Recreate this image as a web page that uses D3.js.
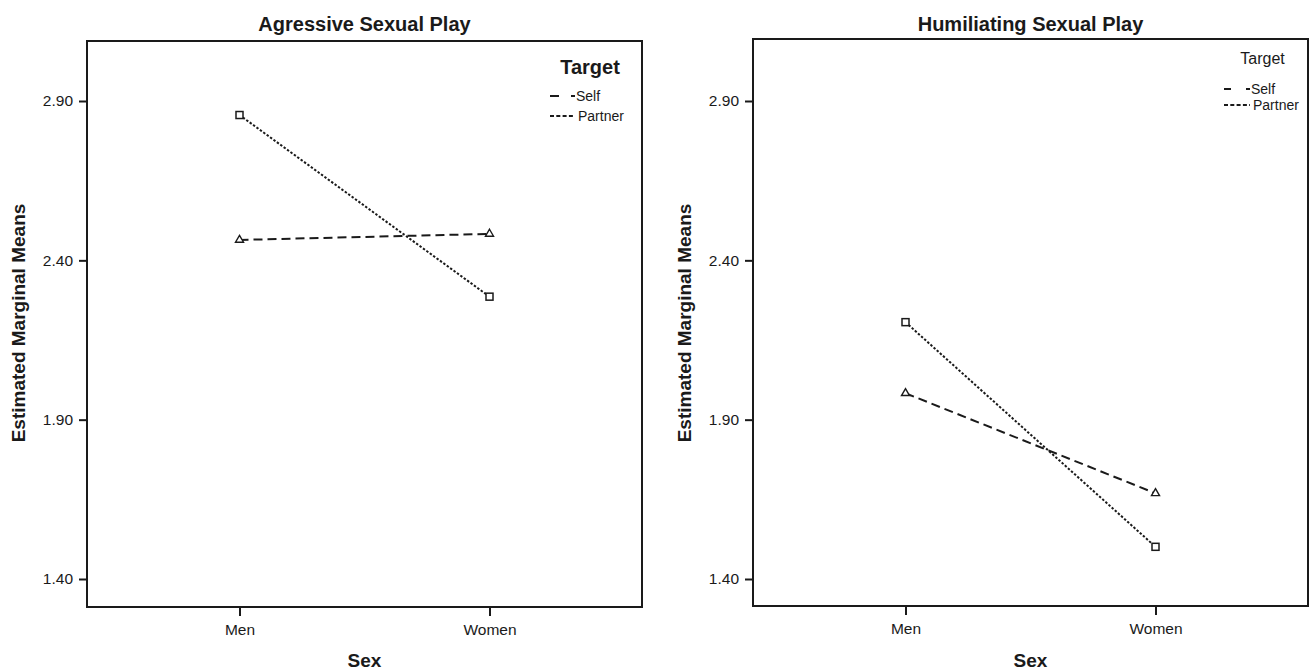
<!DOCTYPE html>
<html>
<head>
<meta charset="utf-8">
<script src="https://cdn.jsdelivr.net/npm/d3@7"></script>
<style>
  html, body { margin: 0; padding: 0; background: #fff; }
  svg { display: block; font-family: "Liberation Sans", Arial, sans-serif; }
</style>
</head>
<body>
<svg id="chart" width="1309" height="670"></svg>
<script>
// ---- data ----
const categories = ["Men", "Women"];
const seriesNames = ["Self", "Partner"];
const panelTitles = ["Agressive Sexual Play", "Humiliating Sexual Play"];
const aggressiveSelf = [2.464, 2.483];
const aggressivePartner = [2.856, 2.286];
const humiliatingSelf = [1.983, 1.669];
const humiliatingPartner = [2.206, 1.501];
const yTickValues = [1.40, 1.90, 2.40, 2.90];
const yAxisTitle = "Estimated Marginal Means";
const xAxisTitle = "Sex";
const legendTitle = "Target";

// ---- layout ----
const svg = d3.select("#chart");
const FONT = '"Liberation Sans", Arial, sans-serif';
const ink = "#1a1a1a";

const panels = [
  { title: panelTitles[0], self: aggressiveSelf, partner: aggressivePartner,
    x0: 87, x1: 642, y0: 41, y1: 607, yTitleX: 18,
    legend: { bold: true, size: 20, cx: 590, tBase: 74, lx: 550, rows: [96, 116], selfDash: "9,12", selfLen: 25, partLen: 23, tx: [576, 578] } },
  { title: panelTitles[1], self: humiliatingSelf, partner: humiliatingPartner,
    x0: 753, x1: 1308, y0: 39, y1: 606, yTitleX: 684,
    legend: { bold: false, size: 16, cx: 1262.5, tBase: 64, lx: 1224, rows: [89, 105], selfDash: "7,15", selfLen: 26, partLen: 26, tx: [1251, 1253] } }
];

const y = d3.scaleLinear().domain([1.40, 2.90]).range([579, 101]);

panels.forEach(p => {
  const g = svg.append("g");
  const x = d3.scalePoint().domain(categories).range([p.x0, p.x1]).padding(0.61);
  const cx = (p.x0 + p.x1) / 2;

  // frame
  g.append("rect")
    .attr("x", p.x0).attr("y", p.y0)
    .attr("width", p.x1 - p.x0).attr("height", p.y1 - p.y0)
    .attr("fill", "none").attr("stroke", ink).attr("stroke-width", 2);

  // y axis
  const ya = g.append("g").attr("transform", `translate(${p.x0},0)`)
    .call(d3.axisLeft(y).tickValues(yTickValues).tickFormat(d3.format(".2f")).tickSize(8).tickPadding(6));
  ya.select(".domain").remove();
  ya.selectAll("line").attr("stroke", ink).attr("stroke-width", 2);
  ya.selectAll("text").attr("font-family", FONT).attr("font-size", 15.5).attr("fill", ink);

  // x axis
  const xa = g.append("g").attr("transform", `translate(0,${p.y1})`)
    .call(d3.axisBottom(x).tickSize(9).tickPadding(8));
  xa.select(".domain").remove();
  xa.selectAll("line").attr("stroke", ink).attr("stroke-width", 2);
  xa.selectAll("text").attr("font-family", FONT).attr("font-size", 15.5).attr("fill", ink);

  // titles
  g.append("text").attr("x", cx).attr("y", 31).attr("text-anchor", "middle")
    .attr("font-size", 20).attr("font-weight", "bold").attr("fill", ink).text(p.title);
  g.append("text").attr("x", cx).attr("y", 667).attr("text-anchor", "middle")
    .attr("font-size", 19).attr("font-weight", "bold").attr("fill", ink).text(xAxisTitle);
  g.append("text").attr("transform", `translate(${p.yTitleX},323) rotate(-90)`)
    .attr("text-anchor", "middle").attr("dy", "0.35em")
    .attr("font-size", 19).attr("font-weight", "bold").attr("fill", ink).text(yAxisTitle);

  // lines
  const line = d3.line().x((d, i) => x(categories[i])).y(d => y(d));
  g.append("path").datum(p.self).attr("d", line)
    .attr("fill", "none").attr("stroke", ink).attr("stroke-width", 2).attr("stroke-dasharray", "9,5");
  g.append("path").datum(p.partner).attr("d", line)
    .attr("fill", "none").attr("stroke", ink).attr("stroke-width", 2).attr("stroke-dasharray", "2.4,1.8");

  // markers
  g.selectAll(".tri").data(p.self).join("path")
    .attr("transform", (d, i) => `translate(${x(categories[i])},${y(d)})`)
    .attr("d", d3.symbol(d3.symbolTriangle, 28))
    .attr("fill", "#fff").attr("stroke", ink).attr("stroke-width", 1.4);
  g.selectAll(".sq").data(p.partner).join("rect")
    .attr("x", (d, i) => x(categories[i]) - 3.5).attr("y", d => y(d) - 3.5)
    .attr("width", 7).attr("height", 7)
    .attr("fill", "#fff").attr("stroke", ink).attr("stroke-width", 1.5);

  // legend
  const L = p.legend;
  g.append("text").attr("x", L.cx).attr("y", L.tBase).attr("text-anchor", "middle")
    .attr("font-size", L.size).attr("font-weight", L.bold ? "bold" : "normal").attr("fill", ink).text(legendTitle);
  g.append("line").attr("x1", L.lx).attr("x2", L.lx + L.selfLen).attr("y1", L.rows[0]).attr("y2", L.rows[0])
    .attr("stroke", ink).attr("stroke-width", 2).attr("stroke-dasharray", L.selfDash);
  g.append("line").attr("x1", L.lx).attr("x2", L.lx + L.partLen).attr("y1", L.rows[1]).attr("y2", L.rows[1])
    .attr("stroke", ink).attr("stroke-width", 2).attr("stroke-dasharray", "4,2.3");
  seriesNames.forEach((s, i) => {
    g.append("text").attr("x", L.tx[i]).attr("y", L.rows[i]).attr("dy", "0.35em")
      .attr("font-size", 14).attr("fill", ink).text(s);
  });
});
</script>
</body>
</html>
